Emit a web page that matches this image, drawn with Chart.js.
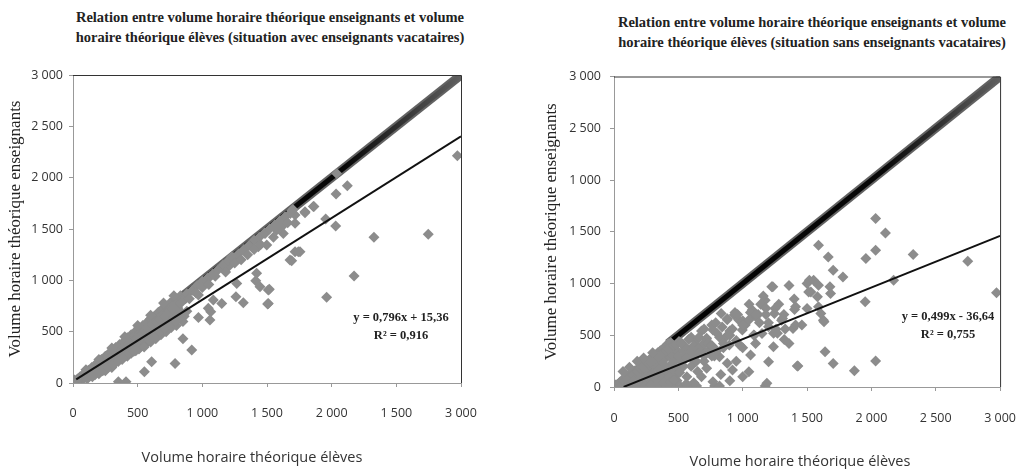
<!DOCTYPE html>
<html>
<head>
<meta charset="utf-8">
<script src="https://cdn.jsdelivr.net/npm/chart.js"></script>
<style>
  body { margin: 0; background: #fff; width: 1036px; height: 469px; position: relative; overflow: hidden; }
  .box { position: absolute; }
  .titre { position: absolute; text-align: center; font-family: "Liberation Serif", serif; font-weight: bold; font-size: 14.5px; line-height: 20px; color: #222; }
  .axe { position: absolute; text-align: center; font-family: "Open Sans", sans-serif; font-size: 14.5px; line-height: 18px; color: #333; }
  .eq { position: absolute; text-align: center; font-family: "Liberation Serif", serif; font-weight: bold; font-size: 12.5px; line-height: 18px; color: #222; }
</style>
</head>
<body>
<div class="titre" style="left:60px; top:7px; width:420px;">Relation entre volume horaire théorique enseignants et volume<br>horaire théorique élèves (situation avec enseignants vacataires)</div>
<div class="titre" style="left:602px; top:12px; width:420px;">Relation entre volume horaire théorique enseignants et volume<br>horaire théorique élèves (situation sans enseignants vacataires)</div>

<div class="box" style="left:0; top:60px; width:518px; height:409px;"><canvas id="avec"></canvas></div>
<div class="box" style="left:520px; top:60px; width:516px; height:409px;"><canvas id="sans"></canvas></div>

<div class="axe" style="left:102px; top:448px; width:300px;">Volume horaire théorique élèves</div>
<div class="axe" style="left:650px; top:452px; width:300px;">Volume horaire théorique élèves</div>

<div class="eq" style="left:331px; top:308px; width:140px;">y = 0,796x + 15,36<br>R² = 0,916</div>
<div class="eq" style="left:878px; top:307px; width:140px;">y = 0,499x - 36,64<br>R² = 0,755</div>

<script>
// tick labels as printed in the source (typos kept)
var avecTicksX = ['0', '500', '1 000', '1 500', '2 000', '1 500', '3 000'];
var avecTicksY = ['0', '500', '1 000', '1 500', '2 000', '2 500', '3 000'];
var sansTicksX = ['0', '500', '1 000', '1 500', '2 000', '2 500', '3 000'];
var sansTicksY = ['0', '500', '1 000', '1 500', '1 000', '2 500', '3 000'];

// situation avec enseignants vacataires : volume eleves (x), volume enseignants (y)
var avecX = [15, 25, 35, 45, 55, 65, 75, 85, 95, 105, 120, 130, 145, 155, 170, 180, 195, 205, 220, 235,
  250, 260, 275, 290, 300, 315, 330, 345, 360, 375, 390, 405, 420, 435, 450, 465, 480, 495, 510, 525,
  540, 555, 570, 585, 600, 615, 630, 645, 660, 675, 690, 705, 720, 735, 750, 770, 790, 810, 830, 845,
  20, 40, 60, 80, 100, 120, 140, 160, 180, 200, 220, 240, 260, 280, 300, 320, 340, 360, 380, 400,
  420, 440, 460, 480, 500, 530, 560, 590, 620, 650, 680, 710, 740, 770, 800, 830,
  150, 200, 250, 300, 330, 380, 420, 450, 490, 520, 560, 600, 640, 680, 720, 760, 800, 850,
  10, 30, 50, 70, 90, 110, 130, 150, 170, 190, 210, 230, 250, 270, 290, 310, 330, 350, 370, 390,
  410, 430, 450, 470, 490, 510, 530, 550, 570, 590, 610, 630, 650, 670, 690, 710, 730, 750, 770, 790,
  810, 830, 850, 870,
  110, 170, 230, 270, 310, 350, 390, 430, 470, 510, 550, 590, 630, 670, 710, 750, 790, 820, 860, 880,
  100, 200, 300, 400, 500, 600, 700, 780,
  351, 410, 485, 552, 608, 789, 918, 850,
  970, 1059, 1065, 1150, 1317, 1413, 1510, 1505, 1260, 1266, 1227, 1201, 1059, 1021, 970, 1085, 1046, 1420, 1433, 1485,
  1588, 1626, 1691, 1717, 1742, 1678, 1717, 1691, 1575, 1498, 1858, 1717, 1794, 1518, 1510, 1446,
  880, 920, 960, 1000, 1040, 1080, 1120, 1160, 1200, 1240, 1280, 1320, 1360, 1400, 1440, 1480, 1520, 1560, 1600, 1640, 1680, 1700,
  900, 950, 1000, 1050, 1100, 1180, 1250, 1300, 1350, 1400, 1450, 1550, 1620, 1660,
  2039, 2121, 2034, 1863, 1794, 1954, 2031, 2327, 2747, 1755, 2173, 1961, 2972];
var avecY = [20, 15, 40, 30, 60, 50, 80, 70, 100, 90, 125, 110, 150, 135, 175, 160, 200, 185, 230, 210,
  260, 240, 285, 265, 310, 290, 345, 320, 375, 350, 400, 380, 440, 410, 470, 440, 500, 470, 540, 500,
  560, 530, 590, 560, 625, 590, 650, 615, 690, 650, 720, 680, 750, 710, 780, 750, 820, 790, 850, 815,
  5, 10, 25, 40, 60, 80, 95, 110, 125, 140, 160, 175, 190, 200, 230, 240, 260, 270, 300, 310,
  330, 345, 360, 380, 395, 420, 450, 470, 500, 520, 560, 580, 610, 640, 660, 700,
  60, 90, 120, 150, 200, 230, 260, 290, 330, 350, 380, 400, 430, 470, 500, 540, 560, 600,
  30, 25, 45, 65, 85, 100, 120, 140, 150, 170, 190, 200, 220, 250, 280, 270, 300, 330, 320, 350,
  390, 380, 420, 450, 430, 480, 470, 510, 540, 520, 570, 600, 590, 620, 660, 650, 690, 700, 720, 760,
  740, 780, 800, 820,
  40, 80, 120, 150, 180, 210, 250, 290, 310, 330, 350, 420, 460, 500, 530, 570, 600, 630, 650, 700,
  130, 230, 340, 450, 560, 660, 780, 850,
  13, 13, 315, 110, 208, 191, 321, 430,
  639, 614, 694, 775, 782, 996, 906, 769, 841, 970, 1230, 1133, 1035, 970, 857, 808, 727, 1068, 1327, 1457,
  1523, 1457, 1191, 1279, 1279, 1198, 1555, 1678, 1490, 1344, 1718, 1636, 1669, 912, 775, 938,
  870, 900, 950, 990, 1020, 1060, 1100, 1150, 1190, 1220, 1260, 1300, 1340, 1390, 1420, 1460, 1500, 1540, 1580, 1620, 1650, 1690,
  820, 880, 930, 960, 1040, 1080, 1170, 1200, 1250, 1300, 1350, 1420, 1530, 1560,
  2041, 1922, 1841, 1718, 1659, 1597, 1529, 1419, 1448, 1279, 1042, 835, 2214];

// situation sans enseignants vacataires
var sansX = [20, 40, 60, 80, 100, 120, 140, 160, 180, 200, 220, 240, 260, 280, 300, 320, 340, 360, 380, 400, 420, 440,
  30, 50, 70, 90, 110, 130, 150, 170, 190, 210, 230, 250, 270, 290, 310, 330, 350, 370, 390, 410, 430, 450, 470, 490,
  60, 100, 140, 180, 220, 260, 300, 340, 380, 420, 460, 500, 540,
  120, 170, 220, 270, 320, 370, 420, 470, 520, 580, 642, 782, 820, 1175,
  10, 25, 45, 65, 85, 105, 125, 145, 165, 185, 205, 225, 245, 265, 285, 305, 325, 345, 365, 385,
  405, 425, 445, 465, 485, 505, 150, 200, 250, 300, 350, 400, 450, 480, 330, 380, 430, 480, 510,
  40, 90, 140, 190, 240, 290, 340, 390, 440, 490, 70, 120, 180, 230, 300,
  617, 566, 464, 693, 718, 769, 870, 997, 833, 934, 972, 1074, 1175, 1226, 1251, 1302, 1391, 1403, 1201, 1150,
  1086, 896, 820, 769, 921, 1048, 1061, 1201, 1239, 1188, 1429, 1518, 1530, 1581,
  520, 560, 600, 640, 680, 720, 760, 800, 840, 880, 920, 960, 1000, 1060, 1100, 1140, 1180,
  500, 540, 580, 620, 660, 700, 740, 780, 600, 650, 700,
  520, 550, 580, 610, 640, 660, 700, 730, 760, 790, 820, 850, 880, 900, 940, 980, 1020, 1050, 1090, 1120,
  1160, 1200, 1240, 1280, 1320, 1360, 1400, 1460, 1500,
  520, 560, 620, 660, 700, 760, 800, 850, 900, 950, 1000, 1050, 1100, 1130, 1180, 1270, 1330, 1360, 1100, 1000,
  950, 880, 830, 720, 680, 620, 560, 900, 1000,
  1424, 1323, 1259, 1246, 1310, 1411, 1411, 1500, 1589, 1627, 1513, 1551, 1589, 1678, 1703, 1779, 1665, 1589, 1234, 1632,
  1607, 1683, 1640, 1703, 1868, 2033, 1952, 2173, 1957, 2033, 2109, 2033, 2325, 2749, 2972];
var sansY = [10, 35, 50, 75, 90, 110, 130, 155, 170, 195, 210, 230, 250, 270, 290, 310, 330, 350, 370, 390, 420, 430,
  5, 20, 30, 45, 60, 70, 90, 100, 120, 130, 150, 160, 180, 190, 210, 220, 240, 250, 270, 290, 300, 320, 340, 350,
  0, 10, 20, 30, 40, 60, 80, 100, 120, 140, 160, 180, 200,
  0, 0, 0, 0, 5, 0, 5, 0, 0, 10, 10, 10, 10, 10,
  20, 25, 45, 70, 60, 100, 95, 115, 140, 150, 180, 190, 200, 230, 240, 260, 280, 290, 320, 330,
  350, 370, 380, 400, 410, 440, 60, 80, 100, 130, 170, 200, 230, 260, 60, 80, 100, 110, 140,
  0, 0, 0, 5, 10, 20, 30, 40, 50, 60, 150, 190, 250, 280, 330,
  260, 99, 68, 357, 453, 550, 485, 550, 711, 695, 646, 743, 839, 968, 759, 646, 566, 749, 582, 518,
  502, 405, 292, 51, 164, 148, 309, 244, 389, 36, 203, 1032, 919, 871,
  430, 380, 480, 450, 540, 470, 600, 520, 580, 660, 560, 700, 640, 720, 680, 800, 760,
  300, 350, 320, 400, 380, 420, 360, 300, 200, 150, 250,
  420, 300, 460, 350, 250, 480, 560, 420, 300, 620, 480, 380, 650, 540, 720, 400, 600, 800, 500, 700,
  880, 620, 520, 800, 700, 980, 850, 600, 1000,
  250, 280, 300, 330, 300, 400, 350, 420, 500, 450, 600, 650, 700, 620, 700, 520, 560, 420, 420, 380,
  250, 230, 120, 180, 100, 40, 30, 60, 100,
  203, 460, 557, 711, 663, 598, 775, 759, 775, 646, 919, 1032, 984, 968, 1129, 1064, 1257, 1370, 968, 630,
  711, 904, 341, 228, 157, 251, 823, 1032, 1241, 1322, 1489, 1627, 1280, 1215, 910];

// regression lines (as printed on the chart) and the dense diagonal band
var avecPente = 0.796, avecOrigine = 15.36, avecDebut = 25;
var sansPente = 0.499, sansOrigine = -36.64, sansDebut = 75;
var avecBande = [830, 3000];
var sansBande = [420, 3000];

function points(xs, ys) {
  return xs.map(function(x, i) { return { x: x, y: ys[i] }; });
}

function droite(pente, origine, debut) {
  return [{ x: debut, y: pente * debut + origine }, { x: 3000, y: pente * 3000 + origine }];
}

function degrade(ctx) {
  var chart = ctx.chart, a = chart.chartArea;
  if (!a) return '#111';
  var g = chart.ctx.createLinearGradient(a.left, 0, a.right, 0);
  g.addColorStop(0, '#000');
  g.addColorStop(0.7, '#080808');
  g.addColorStop(1, '#606060');
  return g;
}

var bordure = {
  id: 'bordure',
  afterDraw: function(chart) {
    var a = chart.chartArea, ctx = chart.ctx;
    ctx.save();
    ctx.strokeStyle = '#333';
    ctx.lineWidth = 1;
    ctx.beginPath();
    ctx.moveTo(a.left, a.top + 0.5);
    ctx.lineTo(a.right + 0.5, a.top + 0.5);
    ctx.lineTo(a.right + 0.5, a.bottom);
    ctx.stroke();
    ctx.restore();
  }
};

function makeChart(id, opts) {
  var ctx = document.getElementById(id).getContext('2d');
  var diag = opts.bande.map(function(v) { return { x: v, y: v }; });
  return new Chart(ctx, {
    type: 'scatter',
    data: {
      datasets: [{
        data: droite(opts.pente, opts.origine, opts.debut),
        showLine: true,
        borderColor: '#111',
        borderWidth: 2,
        pointRadius: 0
      }, {
        data: points(opts.xs, opts.ys),
        pointStyle: 'rectRot',
        pointRadius: 5.5,
        backgroundColor: '#8c8c8c',
        borderWidth: 0
      }, {
        data: diag,
        showLine: true,
        borderColor: degrade,
        borderWidth: 5,
        pointRadius: 0
      }, {
        data: diag,
        showLine: true,
        borderColor: 'rgba(70,70,70,0.85)',
        borderWidth: 9,
        pointRadius: 0
      }]
    },
    options: {
      responsive: true,
      maintainAspectRatio: false,
      animation: false,
      events: [],
      layout: { padding: { top: 15, right: opts.droite, bottom: 0, left: 0 } },
      plugins: {
        legend: { display: false },
        tooltip: { enabled: false }
      },
      scales: {
        x: {
          type: 'linear',
          min: 0,
          max: 3000,
          afterFit: function(s) { s.height = opts.hautX; },
          ticks: {
            stepSize: 500,
            padding: opts.padX,
            maxRotation: 0,
            color: '#333',
            font: { family: 'Open Sans', size: 12.5 },
            callback: function(v, i) { return opts.ticksX[i]; }
          },
          grid: { drawOnChartArea: false, drawTicks: true, tickLength: 4, color: '#999' },
          border: { display: true, color: '#999' }
        },
        y: {
          type: 'linear',
          min: 0,
          max: 3000,
          afterFit: function(s) { s.width = opts.largY; },
          ticks: {
            stepSize: 500,
            padding: opts.padY,
            color: '#333',
            font: { family: 'Open Sans', size: 12.5 },
            callback: function(v, i) { return opts.ticksY[i]; }
          },
          grid: { drawOnChartArea: false, drawTicks: true, tickLength: 4, color: '#999' },
          border: { display: true, color: '#999' },
          title: {
            display: true,
            text: 'Volume horaire théorique enseignants',
            color: '#222',
            font: { family: 'Liberation Serif', size: 17 },
            padding: { top: opts.padTitre, bottom: 0 }
          }
        }
      }
    },
    plugins: [bordure]
  });
}

makeChart('avec', {
  xs: avecX, ys: avecY, pente: avecPente, origine: avecOrigine, debut: avecDebut, bande: avecBande,
  ticksX: avecTicksX, ticksY: avecTicksY, droite: 57, hautX: 86, largY: 73, padX: 19, padY: 6, padTitre: 5
});
makeChart('sans', {
  xs: sansX, ys: sansY, pente: sansPente, origine: sansOrigine, debut: sansDebut, bande: sansBande,
  ticksX: sansTicksX, ticksY: sansTicksY, droite: 28, hautX: 82, largY: 94, padX: 20, padY: 9, padTitre: 21
});
</script>
</body>
</html>
